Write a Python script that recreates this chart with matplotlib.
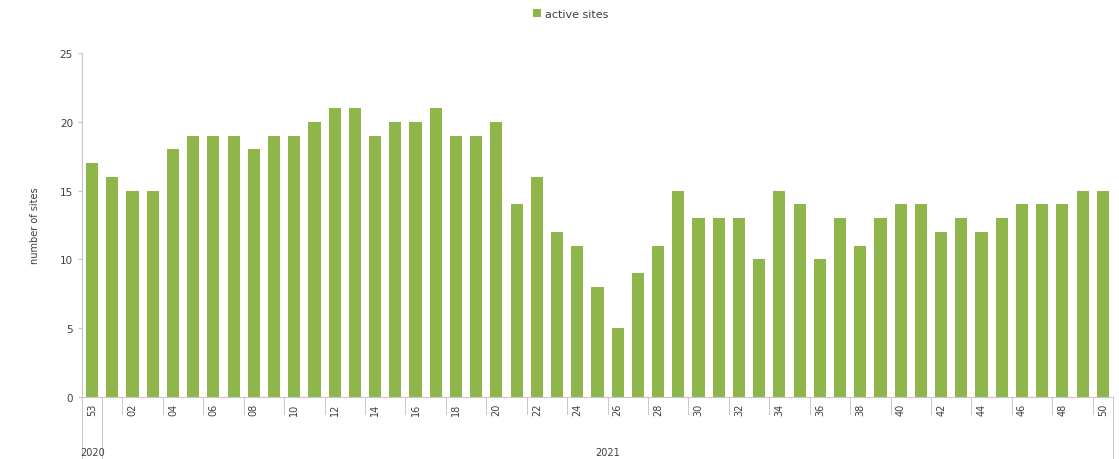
import matplotlib
matplotlib.use("Agg")
from matplotlib import pyplot as plt
import matplotlib.transforms as mtransforms

weeks = ["53"] + ["%02d" % w for w in range(1, 51)]
years = ["2020", "2021"]
year_spans = [(0, 0), (1, 50)]  # first / last bar index of each year
active_sites = [17, 16, 15, 15, 18, 19, 19, 19, 18, 19, 19, 20, 21, 21, 19, 20, 20, 21, 19, 19,
                20, 14, 16, 12, 11, 8, 5, 9, 11, 15, 13, 13, 13, 10, 15, 14, 10, 13, 11, 13,
                14, 14, 12, 13, 12, 13, 14, 14, 14, 15, 15]

bar_color = "#8fb64b"
line_color = "#c8c8c8"
text_color = "#404040"

fig = plt.figure(figsize=(11.19, 4.6), dpi=100)
ax = fig.add_axes([0.0733, 0.1348, 0.9213, 0.7478])

x = list(range(len(weeks)))
ax.bar(x, active_sites, width=0.6, color=bar_color, label="active sites")

ax.set_xlim(-0.5, len(weeks) - 0.5)
ax.set_ylim(0, 25)
ax.set_yticks([0, 5, 10, 15, 20, 25])
ax.tick_params(axis="y", labelsize=7.5, colors=text_color, length=3, color=line_color)
ax.set_ylabel("number of sites", fontsize=7, color=text_color, labelpad=14)

for side in ["top", "right", "bottom"]:
    ax.spines[side].set_visible(False)
ax.spines["left"].set_color(line_color)

# week labels: every other bar
ax.set_xticks(x[::2])
ax.set_xticklabels(weeks[::2], rotation=90, fontsize=7, color=text_color)
ax.tick_params(axis="x", length=0, pad=4)

trans = mtransforms.blended_transform_factory(ax.transData, ax.transAxes)
ax.plot([-0.5, len(weeks) - 0.5], [0, 0], color=line_color, lw=0.8, transform=trans, clip_on=False)

# separators between week pairs
for b in [i + 0.5 for i in range(1, len(weeks) - 1, 2)]:
    ax.plot([b, b], [0, -0.05], color=line_color, lw=0.7, transform=trans, clip_on=False)

# separators between years and year labels
for (start, end), year in zip(year_spans, years):
    for b in [start - 0.5, end + 0.5]:
        ax.plot([b, b], [0, -0.18], color=line_color, lw=0.7, transform=trans, clip_on=False)
    ax.text((start + end) / 2, -0.16, year, transform=trans, ha="center", va="center",
            fontsize=7, color=text_color)

fig.legend(loc="upper center", bbox_to_anchor=(0.51, 1.0), frameon=False, fontsize=8,
           handlelength=0.7, handleheight=0.7, handletextpad=0.3, labelcolor=text_color)

fig.savefig("out.png", dpi=100)
